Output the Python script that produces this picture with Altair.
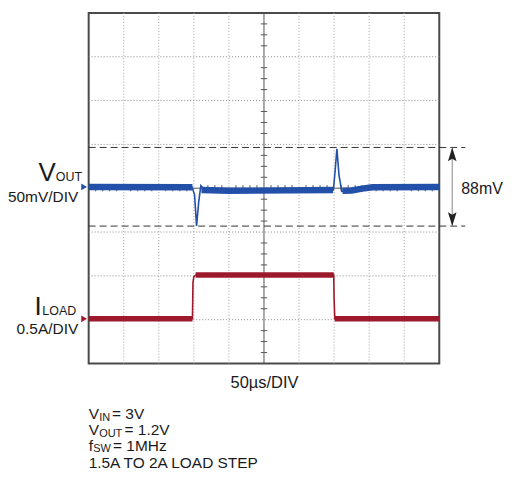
import altair as alt
import pandas as pd

FONT = "Liberation Sans, Arial, sans-serif"
BLUE = "#2350a8"
RED = "#9c1a2b"
INK = "#1a1a1a"

# ---------------- data (scope divisions: x 0..10, y 0..8) ----------------
# V_OUT trace (thin line through transients)
vout_x = [0.0, 1.0, 2.0, 2.95, 3.02, 3.077, 3.14, 3.2, 3.3, 4.0, 5.0, 6.0, 6.98, 7.03, 7.08, 7.14, 7.22, 7.5, 8.0, 9.0, 10.0]
vout_y = [4.03, 4.03, 4.02, 4.02, 3.85, 3.14, 3.7, 4.06, 3.96, 3.94, 3.96, 3.96, 3.96, 4.4, 4.90, 4.3, 3.93, 3.95, 4.02, 4.03, 4.03]
# V_OUT noisy band segments
vout_band_seg = [0, 0, 1, 1, 1, 2, 2, 2, 2, 2]
vout_band_x = [0.0, 2.96, 3.22, 4.0, 6.97, 7.24, 7.5, 7.8, 8.1, 10.0]
vout_band_y = [4.03, 4.02, 3.96, 3.94, 3.96, 3.94, 3.95, 3.99, 4.02, 4.03]

# I_LOAD trace
iload_x = [0.0, 2.96, 2.975, 3.0, 3.06, 5.0, 6.99, 7.0, 7.02, 10.0]
iload_y = [1.02, 1.02, 1.85, 1.98, 2.02, 2.02, 2.02, 1.5, 1.02, 1.02]
iload_band_seg = [0, 0, 1, 1, 2, 2]
iload_band_x = [0.0, 2.96, 3.05, 6.99, 7.02, 10.0]
iload_band_y = [1.02, 1.02, 2.02, 2.02, 1.02, 1.02]

# measurement cursors (88mV)
cursor_y = [4.93, 3.136]
cursor_x_end = 10.74
arrow_x = 10.37

# grid
grid_vx = [1, 2, 3, 4, 6, 7, 8, 9]
grid_hy = [1, 2, 3, 5, 6, 7]
tick_v = [i * 0.25 for i in range(1, 32) if i % 4 != 0]
tick_h = [i * 0.2 for i in range(1, 50) if i % 5 != 0]

# channel markers
marker_y = [4.03, 1.02]
marker_color = [BLUE, RED]

# ---------------- helpers ----------------
XS = alt.Scale(domain=[0, 10], nice=False, zero=False)
YS = alt.Scale(domain=[0, 8], nice=False, zero=False)


def X(f):
    return alt.X(f"{f}:Q", scale=XS, axis=None)


def Y(f):
    return alt.Y(f"{f}:Q", scale=YS, axis=None)


def X2(f):
    return alt.X2(f"{f}:Q")


def Y2(f):
    return alt.Y2(f"{f}:Q")


gv = alt.Chart(pd.DataFrame({"x": grid_vx, "y0": 0, "y1": 8})).mark_rule(
    color="#a0a0a0", strokeWidth=1, strokeDash=[1, 2]
).encode(x=X("x"), y=Y("y0"), y2=Y2("y1"))

gh = alt.Chart(pd.DataFrame({"y": grid_hy, "x0": 0, "x1": 10})).mark_rule(
    color="#8a8a8a", strokeWidth=1, strokeDash=[1, 2]
).encode(y=Y("y"), x=X("x0"), x2=X2("x1"))

cv = alt.Chart(pd.DataFrame({"x": [5], "y0": [0], "y1": [8]})).mark_rule(
    color="#555555", strokeWidth=1
).encode(x=X("x"), y=Y("y0"), y2=Y2("y1"))

ch = alt.Chart(pd.DataFrame({"y": [4], "x0": [0], "x1": [10]})).mark_rule(
    color="#555555", strokeWidth=1
).encode(y=Y("y"), x=X("x0"), x2=X2("x1"))

tv = alt.Chart(pd.DataFrame({"y": tick_v, "x0": 5 - 0.09, "x1": 5 + 0.09})).mark_rule(
    color="#555555", strokeWidth=1
).encode(y=Y("y"), x=X("x0"), x2=X2("x1"))

th = alt.Chart(pd.DataFrame({"x": tick_h, "y0": 4 - 0.07, "y1": 4 + 0.07})).mark_rule(
    color="#555555", strokeWidth=1
).encode(x=X("x"), y=Y("y0"), y2=Y2("y1"))

cur = alt.Chart(pd.DataFrame({"y": cursor_y, "x0": 0, "x1": cursor_x_end})).mark_rule(
    color="#333333", strokeWidth=1, strokeDash=[7, 4]
).encode(y=Y("y"), x=X("x0"), x2=X2("x1"))

arr = alt.Chart(pd.DataFrame({"x": [arrow_x], "y0": [cursor_y[1]], "y1": [cursor_y[0]]})).mark_rule(
    color="#888888", strokeWidth=1
).encode(x=X("x"), y=Y("y0"), y2=Y2("y1"))

head_up = alt.Chart(pd.DataFrame({"x": [arrow_x], "y": [cursor_y[0]]})).mark_point(
    shape="M0,0 L-0.5,1.6 L0,1.3 L0.5,1.6 Z", size=300, filled=True, color="#222222", opacity=1
).encode(x=X("x"), y=Y("y"))

head_dn = alt.Chart(pd.DataFrame({"x": [arrow_x], "y": [cursor_y[1]]})).mark_point(
    shape="M0,0 L-0.5,-1.6 L0,-1.3 L0.5,-1.6 Z", size=300, filled=True, color="#222222", opacity=1
).encode(x=X("x"), y=Y("y"))

vband = alt.Chart(pd.DataFrame({"s": vout_band_seg, "x": vout_band_x, "y": vout_band_y})).mark_line(
    color=BLUE, strokeWidth=6.5, strokeCap="butt"
).encode(x=X("x"), y=Y("y"), detail="s:N", order="x:Q")

vline = alt.Chart(pd.DataFrame({"x": vout_x, "y": vout_y})).mark_line(
    color=BLUE, strokeWidth=1.6
).encode(x=X("x"), y=Y("y"), order="x:Q")

iband = alt.Chart(pd.DataFrame({"s": iload_band_seg, "x": iload_band_x, "y": iload_band_y})).mark_line(
    color=RED, strokeWidth=5.5, strokeCap="butt"
).encode(x=X("x"), y=Y("y"), detail="s:N", order="x:Q")

iline = alt.Chart(pd.DataFrame({"x": iload_x, "y": iload_y})).mark_line(
    color=RED, strokeWidth=1.6
).encode(x=X("x"), y=Y("y"), order="x:Q")

mk = alt.Chart(pd.DataFrame({"x": [-0.13, -0.13], "y": marker_y, "c": marker_color})).mark_point(
    shape="triangle-right", size=45, filled=True, opacity=1
).encode(x=X("x"), y=Y("y"), color=alt.Color("c:N", scale=None))


# ---------------- text (pixel offsets from plot origin) ----------------
def txt(texts, xs, ys, size, align="left"):
    df = pd.DataFrame({"t": texts, "px": xs, "py": ys})
    return alt.Chart(df).mark_text(
        font=FONT, fontSize=size, align=align, baseline="alphabetic", color=INK
    ).encode(
        x=alt.X("px:Q", scale=None), y=alt.Y("py:Q", scale=None), text="t:N"
    )


big_sym = txt(["V", "I"], [-50.5, -54.5], [169, 303], 26)
subs_left = txt(["OUT", "LOAD"], [-33, -46.5], [169, 303], 12.5)
div_labels = txt(["50mV/DIV", "0.5A/DIV"], [-10.5, -10.5], [190, 322], 15.5, align="right")
meas = txt(["88mV"], [374], [181.5], 16)
tdiv = txt(["50µs/DIV"], [176.5], [377], 16.5, align="center")

notes_main = txt(["V", "= 3V", "V", "= 1.2V", "f", "= 1MHz", "1.5A TO 2A LOAD STEP"],
                 [0, 23.5, 0, 36, 0, 24.5, 0],
                 [408, 408, 424, 424, 440, 440, 456.5], 15.5)
notes_sub = txt(["IN", "OUT", "SW"], [10.5, 10.5, 4.5], [409.5, 425.5, 441], 11)

chart = alt.layer(
    gv, gh, cv, ch, tv, th, cur, arr, head_up, head_dn,
    vband, vline, iband, iline, mk,
    big_sym, subs_left, div_labels, meas, tdiv, notes_main, notes_sub,
).properties(
    width=352, height=352,
    autosize=alt.AutoSizeParams(type="none"),
    padding={"left": 81, "top": 4, "right": 68, "bottom": 113},
).configure_view(stroke="#4a4a4a", strokeWidth=2)

chart.save("out.html", embed_options={"renderer": "svg", "actions": False})
